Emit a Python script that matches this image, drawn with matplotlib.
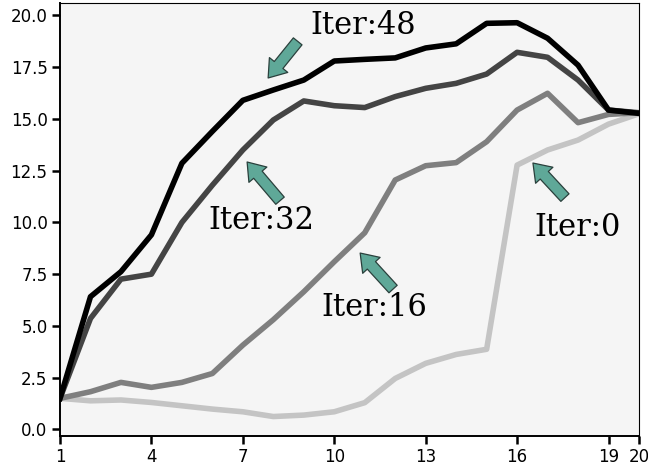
import matplotlib
matplotlib.use("Agg")
import matplotlib.pyplot as plt

steps = list(range(1, 21))
iter0 = [1.5, 1.38, 1.42, 1.3, 1.14, 0.98, 0.85, 0.62, 0.69, 0.85,
         1.29, 2.46, 3.19, 3.62, 3.87, 12.77, 13.5, 13.98, 14.75, 15.25]
iter16 = [1.5, 1.82, 2.27, 2.03, 2.27, 2.7, 4.07, 5.3, 6.65, 8.1,
          9.5, 12.05, 12.74, 12.89, 13.9, 15.43, 16.24, 14.82, 15.22, 15.3]
iter32 = [1.5, 5.36, 7.26, 7.5, 10.0, 11.8, 13.5, 14.95, 15.87, 15.64,
          15.55, 16.08, 16.48, 16.72, 17.17, 18.22, 17.98, 16.88, 15.43, 15.3]
iter48 = [1.5, 6.41, 7.62, 9.4, 12.86, 14.4, 15.9, 16.4, 16.88, 17.8,
          17.88, 17.95, 18.43, 18.63, 19.62, 19.65, 18.9, 17.6, 15.43, 15.27]

series = [("Iter:0", iter0, "#c4c4c4"),
          ("Iter:16", iter16, "#7f7f7f"),
          ("Iter:32", iter32, "#444444"),
          ("Iter:48", iter48, "#000000")]

# label: (text pos, arrow tail, arrow head) in data coords
labels = {
    "Iter:48": ((10.94, 19.5), (8.8, 18.75), (7.83, 16.98)),
    "Iter:32": ((7.6, 10.1), (8.22, 11.05), (7.14, 12.92)),
    "Iter:16": ((11.3, 5.9), (11.93, 6.78), (10.85, 8.52)),
    "Iter:0": ((18.0, 9.75), (17.57, 11.2), (16.52, 12.87)),
}
xticks = [1, 4, 7, 10, 13, 16, 19, 20]

fig = plt.figure(figsize=(6.48, 4.67), dpi=100)
ax = fig.add_axes([0.0926, 0.0664, 0.8935, 0.9266])
ax.set_facecolor("#f5f5f5")

for name, vals, col in series:
    ax.plot(steps, vals, color=col, lw=4.0, solid_capstyle="projecting")

for name, (tpos, tail, head) in labels.items():
    ax.annotate("", xy=head, xytext=tail,
                arrowprops=dict(facecolor="#5fa898", edgecolor="#2a403c",
                                linewidth=0.9, width=8, headwidth=17,
                                headlength=12, shrink=0.0))
    ax.text(tpos[0], tpos[1], name, fontsize=22, family="DejaVu Serif",
            ha="center", va="center")

ax.set_xlim(1, 20)
ax.set_ylim(-0.32, 20.59)
ax.set_xticks(xticks)
ax.set_yticks([0, 2.5, 5, 7.5, 10, 12.5, 15, 17.5, 20])
ax.set_yticklabels(["0.0", "2.5", "5.0", "7.5", "10.0", "12.5", "15.0", "17.5", "20.0"])
ax.tick_params(axis="both", width=1.8, length=6, labelsize=12, pad=3)
ax.spines["bottom"].set_linewidth(1.4)
ax.spines["left"].set_linewidth(1.4)

fig.savefig("out.png", dpi=100)
